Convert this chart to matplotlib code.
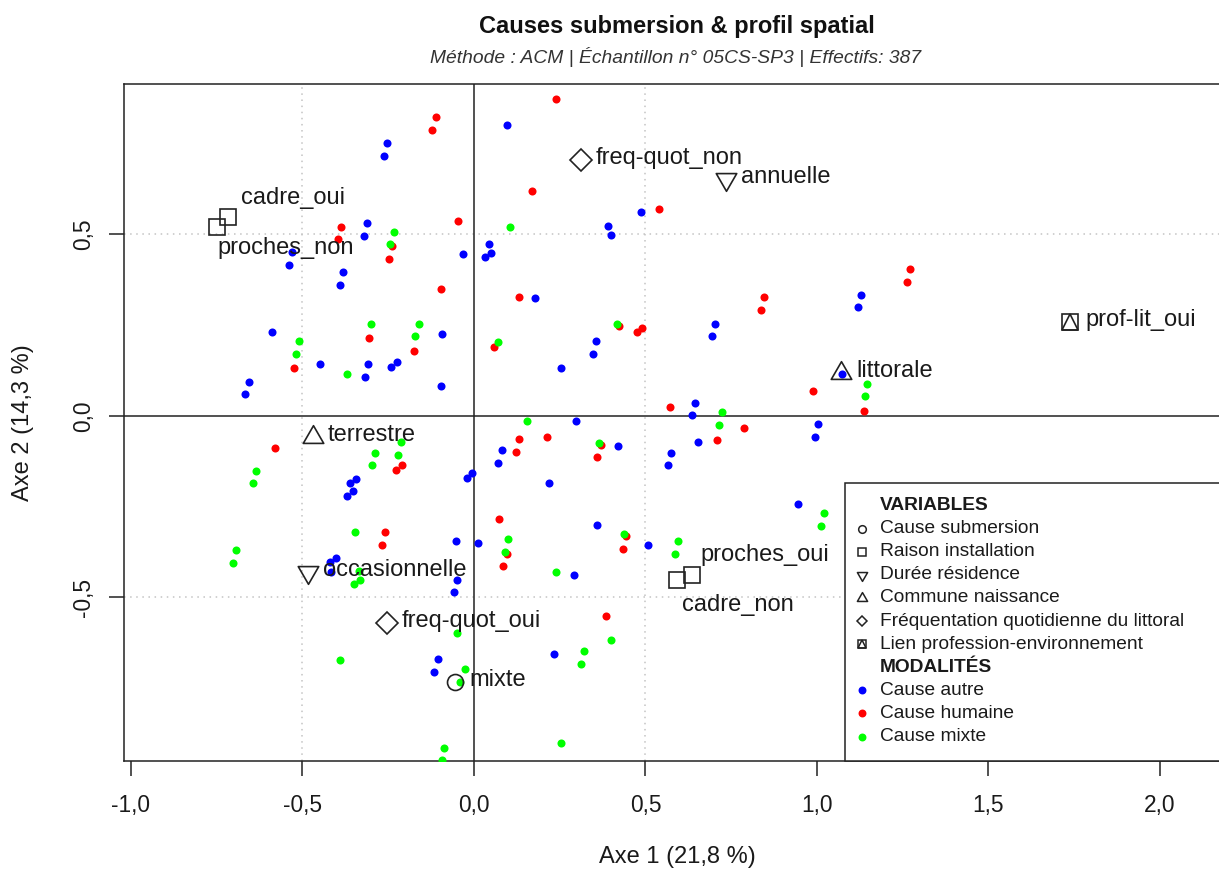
import matplotlib.pyplot as plt
from matplotlib.lines import Line2D
from matplotlib.patches import Rectangle
from matplotlib.path import Path

plt.rcParams['font.family'] = ['Liberation Sans', 'DejaVu Sans']

# individus projetes sur les axes 1 et 2, selon la cause de submersion
autre_x = [-0.255, -0.263, -0.312, -0.322, -0.033, -0.530, -0.538, -0.382, -0.392, -0.588,
           -0.092, -0.449, -0.309, -0.318, -0.243, -0.225, -0.657, -0.667, -0.096, 0.095,
           0.486, 0.390, 0.399, 0.043, 0.050, 0.032, 0.179, 1.129, 1.120, 0.703,
           0.695, 0.356, 0.346, 0.253, 1.072, 0.645, 0.636, 0.297, 1.002, 0.993,
           0.082, 0.071, 0.419, 0.654, 0.575, 0.566, -0.005, -0.021, 0.218, 0.359,
           0.012, -0.053, 0.508, 0.945, 0.292, 0.233, -0.344, -0.362, -0.352, -0.370,
           -0.402, -0.420, -0.417, -0.049, -0.057, -0.106, -0.117]
autre_y = [0.753, 0.717, 0.533, 0.497, 0.445, 0.451, 0.415, 0.396, 0.361, 0.231,
           0.226, 0.142, 0.143, 0.108, 0.136, 0.148, 0.094, 0.061, 0.083, 0.801,
           0.563, 0.523, 0.499, 0.474, 0.450, 0.438, 0.324, 0.334, 0.299, 0.254,
           0.220, 0.207, 0.172, 0.131, 0.115, 0.036, 0.002, -0.014, -0.022, -0.057,
           -0.094, -0.130, -0.082, -0.072, -0.101, -0.136, -0.158, -0.170, -0.185, -0.301,
           -0.350, -0.344, -0.355, -0.242, -0.437, -0.656, -0.173, -0.184, -0.207, -0.220,
           -0.391, -0.402, -0.429, -0.452, -0.486, -0.670, -0.705]

humaine_x = [-0.111, -0.122, -0.048, -0.387, -0.396, -0.238, -0.249, -0.096, -0.306, -0.175,
             -0.524, 0.238, 0.169, 0.540, 0.130, 0.845, 0.837, 0.423, 0.490, 0.474,
             0.057, 0.987, 1.136, 0.571, 1.272, 1.262, 0.787, 0.130, 0.213, 0.122,
             0.369, 0.359, 0.708, 0.073, 0.095, 0.085, 0.443, 0.434, 0.385, -0.581,
             -0.210, -0.227, -0.259, -0.268]
humaine_y = [0.824, 0.788, 0.536, 0.521, 0.488, 0.467, 0.433, 0.351, 0.214, 0.180,
             0.132, 0.873, 0.619, 0.570, 0.327, 0.327, 0.292, 0.249, 0.242, 0.232,
             0.189, 0.069, 0.015, 0.025, 0.406, 0.370, -0.034, -0.064, -0.059, -0.098,
             -0.079, -0.114, -0.065, -0.283, -0.380, -0.414, -0.331, -0.366, -0.550, -0.087,
             -0.135, -0.148, -0.320, -0.355]

mixte_x = [-0.234, -0.245, -0.301, -0.160, -0.171, -0.509, -0.518, -0.370, 0.105, 0.416,
           0.070, 1.147, 1.139, 0.724, 0.154, 0.713, 0.365, 0.100, 0.090, 0.438,
           0.595, 0.586, 0.238, 1.021, 1.012, 0.399, 0.321, 0.312, 0.253, -0.213,
           -0.288, -0.222, -0.297, -0.636, -0.645, -0.346, -0.694, -0.704, -0.335, -0.333,
           -0.350, -0.050, -0.392, -0.026, -0.041, -0.087, -0.094]
mixte_y = [0.507, 0.474, 0.253, 0.254, 0.220, 0.207, 0.171, 0.117, 0.521, 0.254,
           0.205, 0.088, 0.055, 0.011, -0.013, -0.024, -0.074, -0.340, -0.375, -0.325,
           -0.345, -0.381, -0.430, -0.267, -0.302, -0.618, -0.647, -0.682, -0.901, -0.072,
           -0.101, -0.107, -0.136, -0.151, -0.185, -0.320, -0.369, -0.405, -0.426, -0.452,
           -0.464, -0.599, -0.671, -0.696, -0.732, -0.915, -0.948]

# modalites des variables illustratives
modalites = ['mixte', 'cadre_oui', 'proches_non', 'proches_oui', 'cadre_non', 'annuelle',
             'occasionnelle', 'littorale', 'terrestre', 'freq-quot_non', 'freq-quot_oui',
             'prof-lit_oui']
variables = ['cause', 'raison', 'raison', 'raison', 'raison', 'duree',
             'duree', 'naissance', 'naissance', 'frequentation', 'frequentation',
             'profession']
mod_x = [-0.056, -0.716, -0.750, 0.635, 0.592, 0.734, -0.485, 1.070, -0.470, 0.312, -0.254, 1.738]
mod_y = [-0.732, 0.547, 0.520, -0.439, -0.453, 0.653, -0.429, 0.119, -0.057, 0.705, -0.569, 0.258]

tri_haut = Path([(0, 1.555), (-1.347, -0.778), (1.347, -0.778), (0, 1.555)], closed=True)
tri_bas = Path([(0, -1.555), (-1.347, 0.778), (1.347, 0.778), (0, -1.555)], closed=True)

symboles = {
    'cause': [('o', 11.5)],
    'raison': [('s', 11.5)],
    'duree': [(tri_bas, 17)],
    'naissance': [(tri_haut, 17)],
    'frequentation': [('D', 11)],
    'profession': [('s', 11.5), ('^', 11.5)],
}

# decalage des etiquettes (points) ; par defaut a droite du symbole
decalages = {
    'cadre_oui': (9, 14),
    'proches_non': (0.7, -15),
    'proches_oui': (6.5, 14.5),
    'cadre_non': (3.8, -17.5),
}

W, H = 1219, 872
fig = plt.figure(figsize=(W / 100, H / 100), dpi=100)
AX_L, AX_R, AX_T, AX_B = 124, 1222, 84, 760.7
ax = fig.add_axes([AX_L / W, 1 - AX_B / H, (AX_R - AX_L) / W, (AX_B - AX_T) / H])
ax.set_xlim(-1.0204, 2.1808)
ax.set_ylim(-0.9496, 0.9146)

# reperes
for v in (-0.5, 0.5):
    ax.axvline(v, color='#c4c4c4', lw=1.1, ls=(0, (1, 3)), zorder=1)
    ax.axhline(v, color='#c4c4c4', lw=1.1, ls=(0, (1, 3)), zorder=1)
ax.axvline(0, color='#222222', lw=1.1, zorder=1)
ax.axhline(0, color='#222222', lw=1.1, zorder=1)

# nuage des individus
ax.plot(autre_x, autre_y, 'o', color='#0000ff', ms=5.8, mew=0, zorder=3)
ax.plot(humaine_x, humaine_y, 'o', color='#ff0000', ms=5.8, mew=0, zorder=3)
ax.plot(mixte_x, mixte_y, 'o', color='#00ff00', ms=5.8, mew=0, zorder=3)

# modalites illustratives et etiquettes
for nom, var, x, y in zip(modalites, variables, mod_x, mod_y):
    for marker, ms in symboles[var]:
        ax.plot(x, y, marker=marker, ms=ms, mfc='none', mec='#222222', mew=1.2,
                ls='none', zorder=4)
    dx, dy = decalages.get(nom, (10.8, 1.4))
    ax.annotate(nom, (x, y), xytext=(dx, dy), textcoords='offset points',
                ha='left', va='center', fontsize=17, color='#1a1a1a', zorder=5)

# axes
for side in ('top', 'left', 'bottom', 'right'):
    ax.spines[side].set_color('#222222')
    ax.spines[side].set_linewidth(1.1)
ax.set_xticks([-1.0, -0.5, 0.0, 0.5, 1.0, 1.5, 2.0])
ax.set_yticks([-0.5, 0.0, 0.5])
fmt = lambda v, pos: f"{v:.1f}".replace('.', ',')
ax.xaxis.set_major_formatter(fmt)
ax.yaxis.set_major_formatter(fmt)
ax.tick_params(axis='both', length=10.8, width=1.1, color='#222222',
               labelsize=16.4, labelcolor='#1a1a1a')
ax.tick_params(axis='x', pad=13)
ax.tick_params(axis='y', pad=10)
for lab in ax.get_yticklabels():
    lab.set_rotation(90)
    lab.set_va('center')

ax.set_xlabel('Axe 1 (21,8 %)', fontsize=17, color='#1a1a1a')
ax.set_ylabel('Axe 2 (14,3 %)', fontsize=17, color='#1a1a1a')
ax.xaxis.set_label_coords((677 - AX_L) / (AX_R - AX_L), (AX_B - 857) / (AX_B - AX_T))
ax.yaxis.set_label_coords((23 - AX_L) / (AX_R - AX_L), 0.5)
ax.xaxis.label.set_va('center')
ax.yaxis.label.set_va('center')

fig.text(677 / W, 1 - 27 / H, 'Causes submersion & profil spatial',
         ha='center', va='center', fontsize=17, fontweight='bold', color='#111111')
fig.text(676 / W, 1 - 57 / H, 'Méthode : ACM | Échantillon n° 05CS-SP3 | Effectifs: 387',
         ha='center', va='center', fontsize=13.9, style='italic', color='#333333')


# legende dessinee en coordonnees pixel de l'image
def px(x, y):
    return (x - AX_L) / (AX_R - AX_L), (AX_B - y) / (AX_B - AX_T)


x0, y0 = px(845, AX_B)
x1, y1 = px(1240, 482.7)
ax.add_patch(Rectangle((x0, y0), x1 - x0, y1 - y0, transform=ax.transAxes,
                       facecolor='white', edgecolor='#222222', lw=1.1,
                       clip_on=False, zorder=6))

entrees = [
    ('VARIABLES', None),
    ('Cause submersion', [('o', 5.5, 'none')]),
    ('Raison installation', [('s', 5.5, 'none')]),
    ('Durée résidence', [(tri_bas, 8.5, 'none')]),
    ('Commune naissance', [(tri_haut, 8.5, 'none')]),
    ('Fréquentation quotidienne du littoral', [('D', 5.5, 'none')]),
    ('Lien profession-environnement', [('s', 5.5, 'none'), ('^', 5.5, 'none')]),
    ('MODALITÉS', None),
    ('Cause autre', [('o', 4.6, '#0000ff')]),
    ('Cause humaine', [('o', 4.6, '#ff0000')]),
    ('Cause mixte', [('o', 4.6, '#00ff00')]),
]
for i, (texte, marques) in enumerate(entrees):
    yy = 505.5 + 23.1 * i
    tx, ty = px(880, yy)
    ax.text(tx, ty, texte, transform=ax.transAxes, ha='left', va='center',
            fontsize=13.75, color='#1a1a1a', zorder=7,
            fontweight='bold' if marques is None else 'normal')
    if marques:
        mx, my = px(862, yy)
        for marker, ms, fc in marques:
            ax.add_line(Line2D([mx], [my], marker=marker, ms=ms, mfc=fc,
                               mec='#222222' if fc == 'none' else fc, mew=1.1,
                               transform=ax.transAxes, clip_on=False, zorder=7))

fig.savefig('out.png', dpi=100)
